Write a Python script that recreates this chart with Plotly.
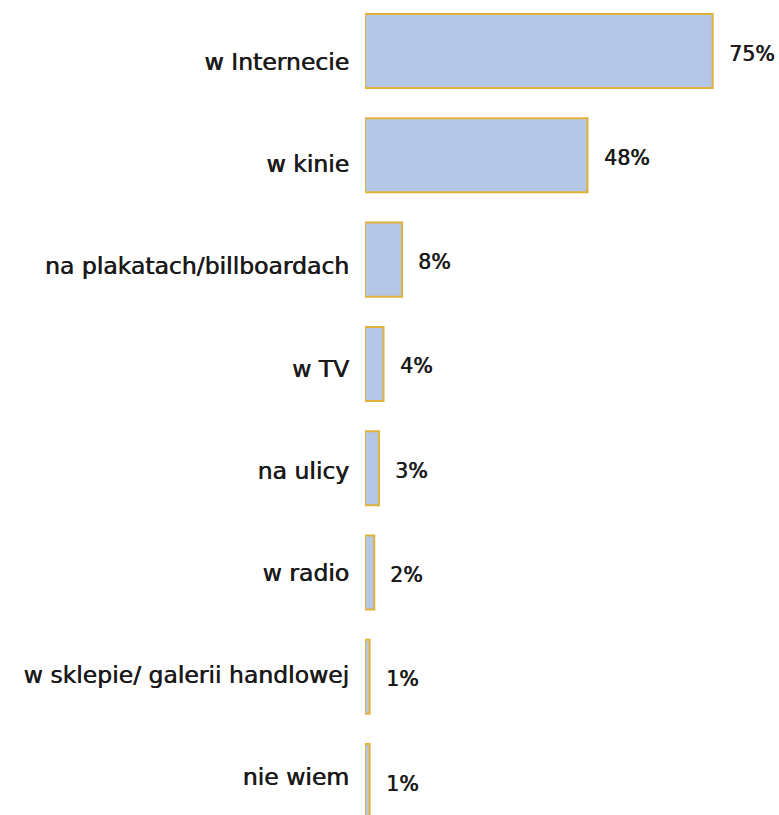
import plotly.graph_objs as go

categories = [
    "w Internecie",
    "w kinie",
    "na plakatach/billboardach",
    "w TV",
    "na ulicy",
    "w radio",
    "w sklepie/ galerii handlowej",
    "nie wiem",
]
values = [75, 48, 8, 4, 3, 2, 1, 1]
value_labels = ["75%", "48%", "8%", "4%", "3%", "2%", "1%", "1%"]

# DejaVu has no medium weight, a thin shadow thickens the strokes a bit
SHADOW = "0.6px 0 0 #1a1a1a"
LABEL_FONT = dict(family="DejaVu Sans", size=23.5, color="#1a1a1a", shadow=SHADOW)
VALUE_FONT = dict(family="DejaVu Sans", size=20.5, color="#1a1a1a", shadow=SHADOW)

fig = go.Figure()
fig.add_trace(go.Bar(
    x=values,
    y=categories,
    orientation="h",
    marker=dict(color="#B4C7E7", line=dict(color="#E0B23A", width=2)),
    width=0.71,
    hoverinfo="skip",
))

# category labels sit on their own axis - in the original they're spaced
# a little tighter than the bars
fig.add_trace(go.Scatter(
    x=[0] * len(categories),
    y=categories,
    yaxis="y2",
    mode="markers",
    marker=dict(opacity=0),
    hoverinfo="skip",
))

# value labels to the right of each bar
for cat, v, lab in zip(categories, values, value_labels):
    fig.add_annotation(
        x=v, y=cat, text=lab, showarrow=False,
        xanchor="left", xshift=14, yshift=-2.5,
        font=VALUE_FONT,
    )

fig.update_layout(
    width=779,
    height=815,
    plot_bgcolor="white",
    paper_bgcolor="white",
    margin=dict(l=365, r=0, t=0, b=0),
    showlegend=False,
    font=LABEL_FONT,
    xaxis=dict(range=[0, 89.3], visible=False, fixedrange=True),
    yaxis=dict(
        type="category",
        categoryorder="array",
        categoryarray=categories,
        range=[7.325, -0.489],
        showgrid=False,
        showline=False,
        zeroline=False,
        showticklabels=False,
        ticks="",
    ),
    yaxis2=dict(
        type="category",
        overlaying="y",
        side="left",
        categoryorder="array",
        categoryarray=categories,
        range=[7.375, -0.607],
        showgrid=False,
        showline=False,
        zeroline=False,
        ticks="",
        ticklabelstandoff=15,
        tickfont=LABEL_FONT,
    ),
)

# drop the default 8px body margin so the figure fills the window exactly
fig.write_html(
    "out.html",
    config={"displayModeBar": False},
    post_script="document.body.style.margin='0';",
)
